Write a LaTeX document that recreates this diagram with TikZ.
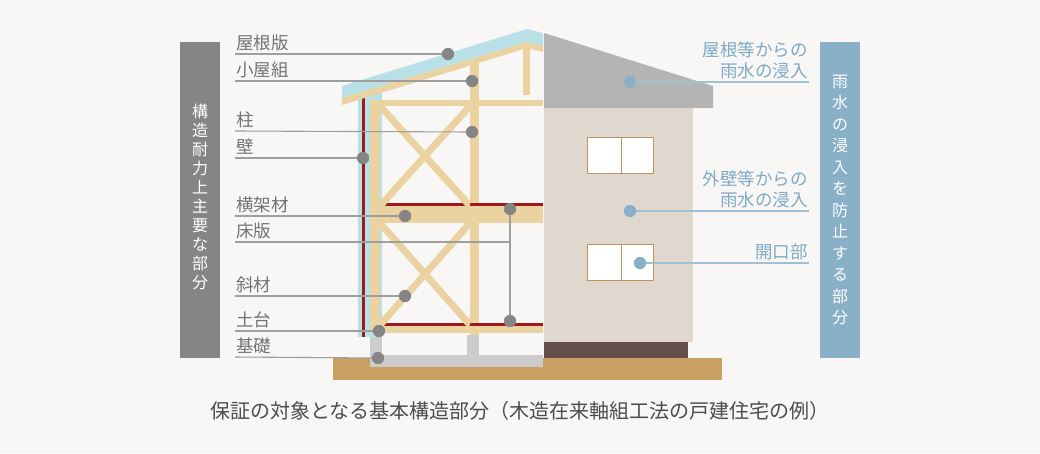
\documentclass[tikz,border=0pt]{standalone}
\usepackage{fontspec}
\setmainfont{Noto Sans CJK JP}
\begin{document}
\begin{tikzpicture}[x=1pt,y=-1pt,
  lbl/.style={anchor=south west,inner sep=0pt,text=black!55,font=\fontsize{17.5}{18}\selectfont},
  rlbl/.style={anchor=south east,inner sep=0pt,align=right,text=blueT,font=\fontsize{17.5}{21}\selectfont},
  gdot/.style={circle,fill=black!48,minimum size=12pt,inner sep=0pt},
  bdot/.style={circle,fill=blueD,minimum size=12pt,inner sep=0pt},
  gl/.style={draw=black!38,line width=1.1pt},
  bl/.style={draw=blueD!80,line width=1.1pt},
  brace/.style={draw=woodC,line width=7pt}]
\definecolor{bg}{HTML}{F8F7F5}
\definecolor{woodC}{HTML}{EAD3A1}
\definecolor{skyC}{HTML}{B9E0E6}
\definecolor{redC}{HTML}{A0191E}
\definecolor{blueD}{HTML}{8AB0C8}
\definecolor{blueT}{HTML}{7FA9C6}
\definecolor{groundC}{HTML}{C9A064}
\definecolor{wallC}{HTML}{E0D8CE}
\definecolor{roofC}{HTML}{B4B4B4}
\definecolor{baseC}{HTML}{654F4B}
\definecolor{winC}{HTML}{C4915C}
\fill[bg] (0,0) rectangle (1040,453);
\useasboundingbox (0,0) rectangle (1040,453);
% ground
\fill[groundC] (333,358) rectangle (722,380);
% foundation
\fill[black!20] (370,337) rectangle (382,367);
\fill[black!20] (467,335) rectangle (479,367);
\fill[black!20] (370,355) rectangle (543,367);
% sheathing
\fill[skyC] (358,92) rectangle (382,337);
\draw[redC,line width=3pt] (363.5,96) -- (363.5,337);
% roof bands
\fill[skyC] (342,86) -- (527,29) -- (543,33) -- (543,46) -- (527,42) -- (342,98) -- cycle;
\fill[woodC] (342,98) -- (527,42) -- (543,46) -- (543,52) -- (527,48) -- (342,105) -- cycle;
\fill[woodC] (523,46) rectangle (530,95);
% posts
\fill[woodC] (370,100) rectangle (380,333);
\fill[woodC] (470,62) rectangle (479,335);
% beams
\fill[woodC] (370,100) rectangle (543,106);
\fill[woodC] (370,206) rectangle (543,223);
\fill[woodC] (370,325) rectangle (543,333);
\draw[redC,line width=3pt] (384,204.5) -- (543,204.5);
\draw[redC,line width=3pt] (380,324.5) -- (543,324.5);
% braces
\begin{scope}
\clip (380,106) rectangle (470,206);
\draw[brace] (380,106) -- (470,206); \draw[brace] (470,106) -- (380,206);
\end{scope}
\begin{scope}
\clip (380,223) rectangle (470,325);
\draw[brace] (380,223) -- (470,325); \draw[brace] (470,223) -- (380,325);
\end{scope}
% right house
\fill[baseC] (544,342) rectangle (688,358);
\fill[groundC] (544,358) rectangle (722,380);
\fill[wallC] (544,108) rectangle (693,342);
\fill[roofC] (544,33) -- (713,86) -- (713,108) -- (544,108) -- cycle;
\foreach \y in {137,244}{
  \draw[winC,fill=white,line width=0.8pt] (587,\y) rectangle (653,\y+36);
  \draw[winC,line width=0.8pt] (621,\y) -- (621,\y+36);}
% bars
\node[fill=black!48,minimum width=40pt,minimum height=316pt,inner sep=0pt] (lbar) at (200,200) {};
\node[text=white,align=center,font=\fontsize{16}{19}\selectfont] at (200,197) {構\\造\\耐\\力\\上\\主\\要\\な\\部\\分};
\node[fill=blueD,minimum width=40pt,minimum height=316pt,inner sep=0pt] (rbar) at (840,200) {};
\node[text=white,align=center,font=\fontsize{16}{21.5}\selectfont] at (840,200) {雨\\水\\の\\浸\\入\\を\\防\\止\\す\\る\\部\\分};
% left labels and leaders
\foreach \n/\t/\y/\dx/\dy in {a/屋根版/54/448/54, b/小屋組/81/472/81, c/柱/131/472/132, d/壁/158/363/158, e/横架材/216/405/216, g/斜材/296/405/296, h/土台/331/379/331, i/基礎/357/378/358}{
  \node[lbl] (t\n) at (236,\y-3) {\t};
  \coordinate (s\n) at (235,\y);
  \node[gdot] (d\n) at (\dx,\dy) {};
  \draw[gl] (s\n) -- (d\n.center);
}
\node[lbl] (tf) at (236,239) {床版};
\coordinate (sf) at (235,242);
\node[gdot] (df1) at (510,209) {};
\node[gdot] (df2) at (510,321) {};
\coordinate (jf) at (510,242);
\draw[gl] (sf) -- (jf);
\draw[gl] (df1.center) -- (df2.center);
\foreach \n in {a,b,c,d,e,g,h,i}{\node[gdot] at (d\n) {};}
\node[gdot] at (df1) {}; \node[gdot] at (df2) {};
% right labels
\node[rlbl] (r1) at (808,79) {屋根等からの\\雨水の浸入};
\node[rlbl] (r2) at (808,208) {外壁等からの\\雨水の浸入};
\node[rlbl] (r3) at (808,260) {開口部};
\node[bdot] (b1) at (630,82) {};
\node[bdot] (b2) at (630,211) {};
\node[bdot] (b3) at (640,263) {};
\coordinate (e1) at (809,82); \coordinate (e2) at (809,211); \coordinate (e3) at (809,263);
\draw[bl] (b1.center) -- (e1); \draw[bl] (b2.center) -- (e2); \draw[bl] (b3.center) -- (e3);
\node[bdot] at (b1) {}; \node[bdot] at (b2) {}; \node[bdot] at (b3) {};
% caption
\node[text=black!70,font=\fontsize{20}{22}\selectfont] (cap) at (520,411) {保証の対象となる基本構造部分（木造在来軸組工法の戸建住宅の例）};
\end{tikzpicture}
\end{document}
